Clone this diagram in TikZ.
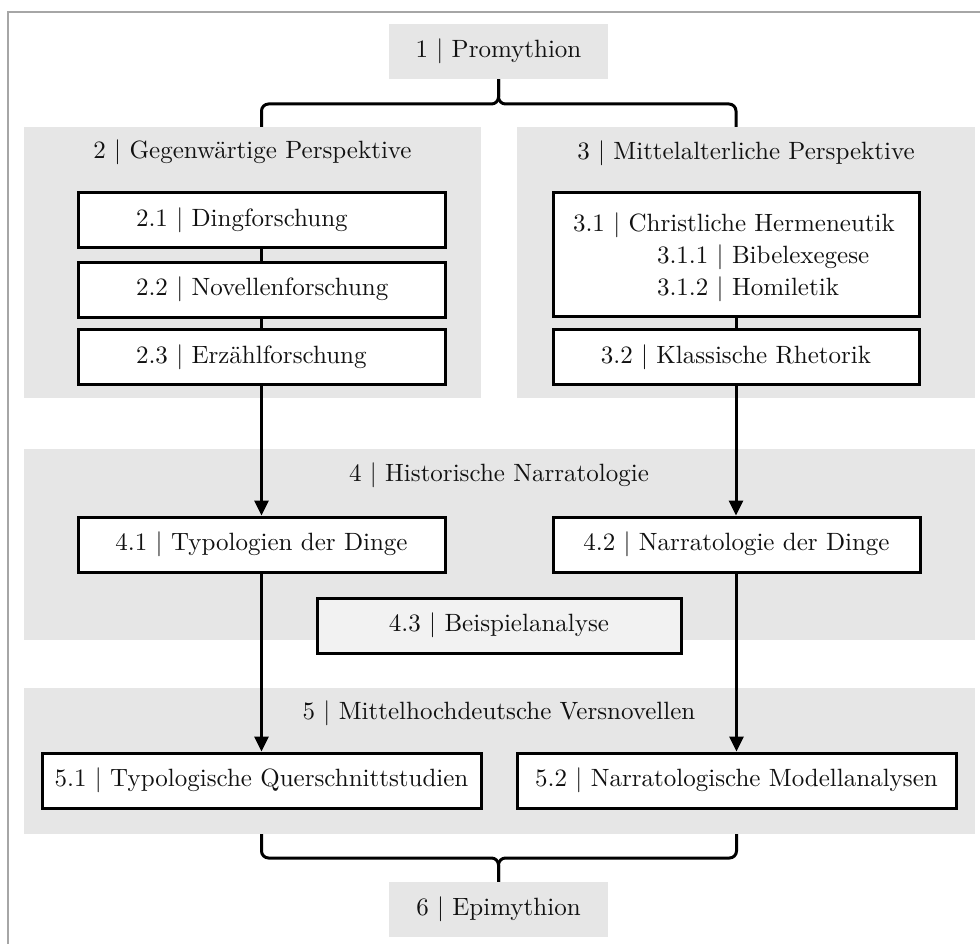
\documentclass[tikz,border=0pt]{standalone}
\usepackage{fontspec}
\setmainfont{lmroman10-regular.otf}
\usetikzlibrary{arrows.meta}
\definecolor{grp}{HTML}{E6E6E6}
\definecolor{lightgrp}{HTML}{F2F2F2}
\definecolor{frm}{HTML}{A6A6A6}
\definecolor{txt}{HTML}{111111}
\begin{document}
\begin{tikzpicture}[x=1pt,y=-1pt,
  every node/.style={font=\fontsize{25}{32}\selectfont, text=txt},
  group/.style={fill=grp, draw=none, inner sep=0pt},
  oneline/.style={text height=18pt, text depth=6pt},
  title/.style={inner sep=0pt, oneline},
  item/.style={draw=black, line width=3pt, fill=white, minimum height=55pt, inner sep=0pt},
  conn/.style={draw=black, line width=3pt},
  arr/.style={conn, -{Triangle[length=15pt,width=14pt]}},
  brace/.style={conn, rounded corners=7pt}]
\useasboundingbox (0,0) rectangle (980,944);
\draw[frm, line width=2pt] (8,12) rectangle (1000,970);

% group backgrounds
\node[group, oneline, minimum width=219pt, minimum height=55pt] (prom) at (498.5,51.5) {1 | Promythion};
\node[group, minimum width=457pt, minimum height=271pt] (g2) at (252.5,262.5) {};
\node[group, minimum width=458pt, minimum height=271pt] (g3) at (746,262.5) {};
\node[group, minimum width=951pt, minimum height=191pt] (g4) at (499.5,544.5) {};
\node[group, minimum width=951pt, minimum height=146pt] (g5) at (499.5,761) {};
\node[group, oneline, minimum width=219pt, minimum height=55pt] (epi) at (498.5,909.5) {6 | Epimythion};

% titles
\node[title] (t2) at (252.5,153) {2 | Gegenwärtige Perspektive};
\node[title] (t3) at (746,154) {3 | Mittelalterliche Perspektive};
\node[title] (t4) at (499,475) {4 | Historische Narratologie};
\node[title] (t5) at (499,713) {5 | Mittelhochdeutsche Versnovellen};

% inner boxes
\node[item, oneline, minimum width=367pt] (b21) at (261.5,220) {\makebox[251pt][l]{2.1 | Dingforschung}};
\node[item, oneline, minimum width=367pt] (b22) at (261.5,289.5) {\makebox[251pt][l]{2.2 | Novellenforschung}};
\node[item, oneline, minimum width=367pt] (b23) at (261.5,357) {\makebox[251pt][l]{2.3 | Erzählforschung}};
\node[item, minimum width=366pt, minimum height=123pt, align=left, text width=326pt] (b31) at (736,254.5)
  {\rule{0pt}{25pt}3.1 | Christliche Hermeneutik\\\hspace*{84pt}3.1.1 | Bibelexegese\\\hspace*{84pt}3.1.2 | Homiletik};
\node[item, oneline, minimum width=366pt] (b32) at (736,357) {3.2 | Klassische Rhetorik};
\node[item, oneline, minimum width=367pt] (b41) at (261.5,544.5) {4.1 | Typologien der Dinge};
\node[item, oneline, minimum width=367pt] (b42) at (736.5,544.5) {4.2 | Narratologie der Dinge};
\node[item, oneline, minimum width=364pt, fill=lightgrp] (b43) at (499,625.5) {4.3 | Beispielanalyse};
\node[item, oneline, minimum width=439pt] (b51) at (261.5,780.5) {5.1 | Typologische Querschnittstudien};
\node[item, oneline, minimum width=439pt] (b52) at (736.5,780.5) {5.2 | Narratologische Modellanalysen};

% connectors inside groups
\draw[conn] (b21) -- (b22);
\draw[conn] (b22) -- (b23);
\draw[conn] (b31.south) -- (b32.north);

% arrows
\draw[arr] (b23.south) -- (b41.north);
\draw[arr] (b32.south) -- (b32.south |- b42.north);
\draw[arr] (b41.south) -- (b51.north);
\draw[arr] (b42.south) -- (b52.north);

% braces
\coordinate (tb) at (498.5,104);
\coordinate (bb) at (498.5,858);
\draw[brace] (prom.south) -- (prom.south |- tb) -| (b21.north |- g2.north);
\draw[brace] (prom.south) -- (prom.south |- tb) -| (b31.north |- g3.north);
\draw[brace] (b51.south |- g5.south) |- (epi.north |- bb) -- (epi.north);
\draw[brace] (b52.south |- g5.south) |- (epi.north |- bb) -- (epi.north);
\end{tikzpicture}
\end{document}
